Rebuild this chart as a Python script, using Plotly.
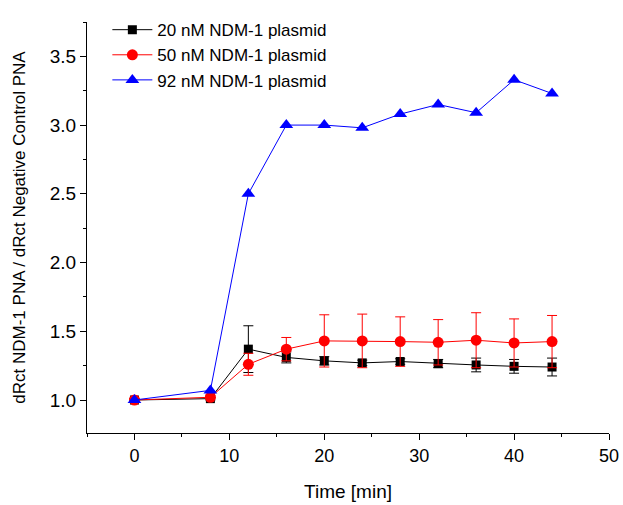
import plotly.graph_objects as go

# ---- data ----
time_min = [0, 8, 12, 16, 20, 24, 28, 32, 36, 40, 44]

y_20nM = [1.00, 1.01, 1.37, 1.31, 1.285, 1.27, 1.28, 1.265, 1.255, 1.245, 1.24]
err_20nM = [0.01, 0.01, 0.17, 0.04, 0.03, 0.02, 0.02, 0.03, 0.05, 0.05, 0.065]

y_50nM = [1.00, 1.02, 1.26, 1.37, 1.43, 1.43, 1.425, 1.42, 1.435, 1.415, 1.425]
err_50nM = [0.01, 0.01, 0.08, 0.085, 0.19, 0.195, 0.18, 0.165, 0.20, 0.175, 0.19]

y_92nM = [1.00, 1.07, 2.50, 3.00, 3.00, 2.98, 3.08, 3.15, 3.09, 3.33, 3.23]

series_names = ["20 nM NDM-1 plasmid", "50 nM NDM-1 plasmid", "92 nM NDM-1 plasmid"]

FONT = "Liberation Sans, Arial, sans-serif"

fig = go.Figure()

fig.add_trace(go.Scatter(
    x=time_min, y=y_20nM, name=series_names[0], mode="lines+markers",
    line=dict(color="#000000", width=1),
    marker=dict(symbol="square", size=9, color="#000000"),
    error_y=dict(type="data", array=err_20nM, visible=True, color="#000000",
                 thickness=1, width=5),
))
fig.add_trace(go.Scatter(
    x=time_min, y=y_50nM, name=series_names[1], mode="lines+markers",
    line=dict(color="#FF0000", width=1),
    marker=dict(symbol="circle", size=11, color="#FF0000"),
    error_y=dict(type="data", array=err_50nM, visible=True, color="#FF0000",
                 thickness=1, width=5),
))
fig.add_trace(go.Scatter(
    x=time_min, y=y_92nM, name=series_names[2], mode="lines+markers",
    line=dict(color="#0000FF", width=1),
    marker=dict(symbol="triangle-up", size=12, color="#0000FF"),
))

fig.update_layout(
    width=623, height=505,
    margin=dict(l=87, r=14, t=14, b=72),
    paper_bgcolor="white", plot_bgcolor="white",
    font=dict(family=FONT, size=17, color="black"),
    showlegend=True,
    legend=dict(
        x=0.039, y=1.024, xanchor="left", yanchor="top",
        bgcolor="rgba(0,0,0,0)", borderwidth=0,
        font=dict(family=FONT, size=17, color="black"),
        itemwidth=40, tracegroupgap=0,
    ),
)

fig.update_xaxes(
    range=[-5, 50], tick0=0, dtick=10,
    automargin=False,
    showgrid=False, zeroline=False,
    showline=True, linecolor="black", linewidth=1,
    ticks="outside", ticklen=6, tickwidth=1, tickcolor="black",
    ticklabelstandoff=0,
    minor=dict(dtick=5, tick0=0, ticks="outside", ticklen=3, tickcolor="black", showgrid=False),
    tickfont=dict(family=FONT, size=18),
    title=dict(text="Time [min]", font=dict(family=FONT, size=19), standoff=20),
)
fig.update_yaxes(
    range=[0.76, 3.75], tick0=1.0, dtick=0.5, tickformat=".1f",
    automargin=False,
    showgrid=False, zeroline=False,
    showline=True, linecolor="black", linewidth=1,
    ticks="outside", ticklen=6, tickwidth=1, tickcolor="black",
    minor=dict(dtick=0.25, tick0=1.0, ticks="outside", ticklen=3, tickcolor="black", showgrid=False),
    tickfont=dict(family=FONT, size=19),
    title=dict(text="dRct NDM-1 PNA / dRct Negative Control PNA",
               font=dict(family=FONT, size=17), standoff=19),
)

fig.write_html("out.html")
